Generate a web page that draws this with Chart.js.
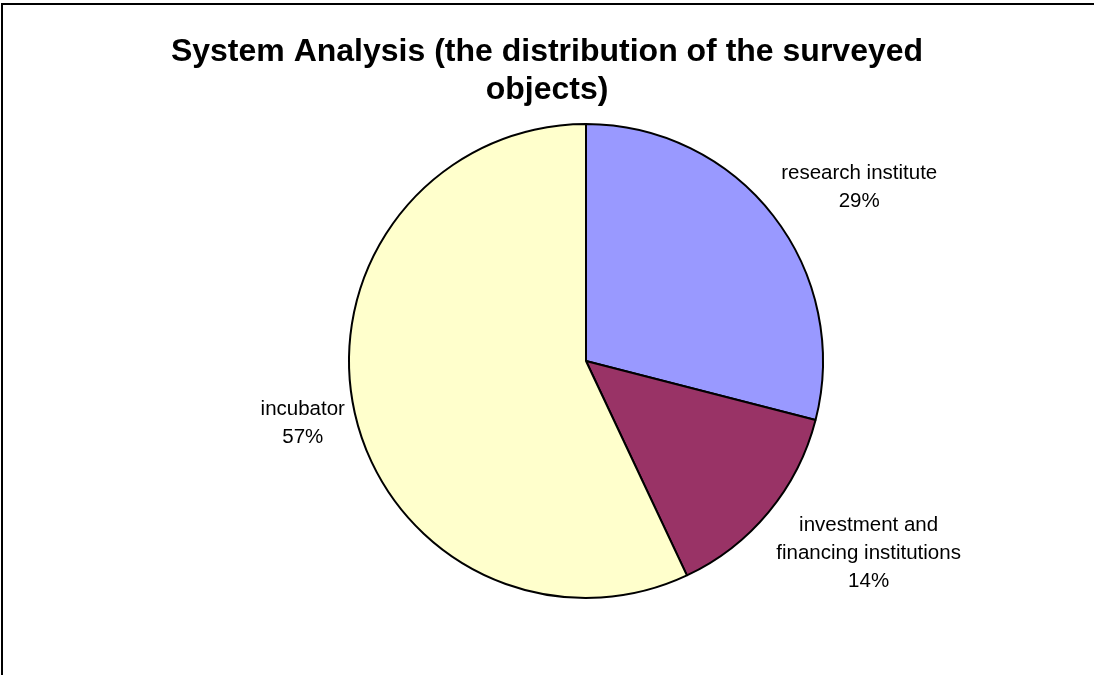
<!DOCTYPE html>
<html>
<head>
<meta charset="utf-8">
<script src="https://cdn.jsdelivr.net/npm/chart.js@4"></script>
<style>
  html, body { margin: 0; padding: 0; background: #fff; }
  body { width: 1094px; height: 675px; position: relative; overflow: hidden; }
  #frame { position: absolute; left: 1px; top: 3px; width: 1200px; height: 800px;
           border-top: 2px solid #000; border-left: 2px solid #000; }
  #chart-wrap { position: absolute; left: 0; top: 0; width: 1094px; height: 675px; }
</style>
</head>
<body>
<div id="frame"></div>
<div id="chart-wrap"><canvas id="chart-pie" width="1094" height="675"></canvas></div>
<script>
const categories = ["research institute", ["investment and", "financing institutions"], "incubator"];
const shares = [29, 14, 57];
const sliceColors = ["#9999FF", "#993366", "#FFFFCC"];
const titleLines = ["System Analysis (the distribution of the surveyed", "objects)"];

const FONT = "'Liberation Sans', Arial, sans-serif";

// pie is a bit right of the title centre, so nudge the chart area
const shiftArea = {
    id: "shiftArea",
    afterLayout(chart) {
        chart.chartArea.left += 39;
        chart.chartArea.right += 39;
    },
};

// outside labels, roughly how excel places them
const outsideLabels = {
    id: "outsideLabels",
    afterDatasetsDraw(chart) {
        const ctx = chart.ctx;
        const data = chart.data.datasets[0].data;
        const total = data.reduce((a, b) => a + b, 0);
        const lineH = 28;
        ctx.save();
        ctx.font = "20.5px " + FONT;
        ctx.fillStyle = "#000";
        ctx.textAlign = "center";
        ctx.textBaseline = "alphabetic";
        chart.getDatasetMeta(0).data.forEach((arc, i) => {
            const p = arc.getProps(["x", "y", "startAngle", "endAngle", "outerRadius"], true);
            const mid = (p.startAngle + p.endAngle) / 2;
            const dx = Math.cos(mid), dy = Math.sin(mid);
            const ax = p.x + dx * (p.outerRadius + 10);
            const ay = p.y + dy * (p.outerRadius + 10);
            const cat = chart.data.labels[i];
            const lines = (Array.isArray(cat) ? cat.slice() : [cat]);
            lines.push(Math.round(data[i] / total * 100) + "%");
            const w = Math.max(...lines.map((l) => ctx.measureText(l).width));
            const h = lines.length * lineH;
            const left = dx >= 0 ? ax : ax - w;
            const fy = Math.min(1, Math.max(0, (1 - dy * 1.3) / 2));
            const top = ay - h * fy;
            lines.forEach((l, k) => {
                ctx.fillText(l, left + w / 2, top + k * lineH + 20);
            });
        });
        ctx.restore();
    },
};

const chart = new Chart(document.getElementById("chart-pie").getContext("2d"), {
    type: "pie",
    data: {
        labels: categories,
        datasets: [
            {
                data: shares,
                backgroundColor: sliceColors,
                borderColor: "#000",
                borderWidth: 2,
                clip: false,
            },
        ],
    },
    options: {
        responsive: false,
        animation: false,
        radius: 237,
        layout: { padding: { top: 0, bottom: 77, left: 0, right: 0 } },
        plugins: {
            legend: { display: false },
            tooltip: { enabled: false },
            title: {
                display: true,
                text: titleLines,
                color: "#000",
                font: { family: FONT, size: 32, weight: "bold", lineHeight: "38px" },
                padding: { top: 33, bottom: 15 },
            },
        },
    },
    plugins: [shiftArea, outsideLabels],
});
</script>
</body>
</html>
